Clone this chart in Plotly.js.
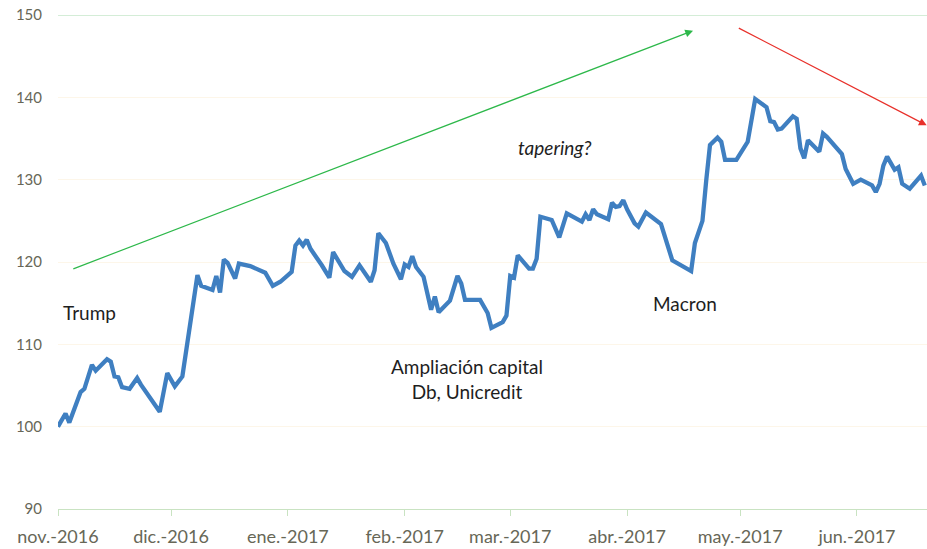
<!DOCTYPE html>
<html>
<head>
<meta charset="utf-8">
<script src="https://cdn.plot.ly/plotly-3.0.1.min.js"></script>
<style>
  body { margin: 0; background: #fff; }
  #chart { width: 927px; height: 549px; }
</style>
</head>
<body>
<div id="chart"></div>
<script>
var fechas = [
    '2016-11-01', '2016-11-03', '2016-11-04', '2016-11-06', '2016-11-07', '2016-11-08',
    '2016-11-10', '2016-11-11', '2016-11-14', '2016-11-15', '2016-11-16', '2016-11-17',
    '2016-11-18', '2016-11-20', '2016-11-22', '2016-11-23', '2016-11-28', '2016-11-30',
    '2016-12-02', '2016-12-04', '2016-12-06', '2016-12-08', '2016-12-09', '2016-12-12',
    '2016-12-13', '2016-12-14', '2016-12-15', '2016-12-16', '2016-12-18', '2016-12-19',
    '2016-12-22', '2016-12-26', '2016-12-28', '2016-12-30', '2017-01-02', '2017-01-03',
    '2017-01-04', '2017-01-05', '2017-01-06', '2017-01-07', '2017-01-10', '2017-01-12',
    '2017-01-13', '2017-01-14', '2017-01-16', '2017-01-18', '2017-01-20', '2017-01-23',
    '2017-01-24', '2017-01-25', '2017-01-27', '2017-01-29', '2017-01-31', '2017-02-01',
    '2017-02-02', '2017-02-03', '2017-02-04', '2017-02-06', '2017-02-08', '2017-02-09',
    '2017-02-10', '2017-02-13', '2017-02-15', '2017-02-16', '2017-02-17', '2017-02-21',
    '2017-02-23', '2017-02-24', '2017-02-27', '2017-02-28', '2017-03-01', '2017-03-02',
    '2017-03-03', '2017-03-06', '2017-03-07', '2017-03-08', '2017-03-09', '2017-03-12',
    '2017-03-14', '2017-03-16', '2017-03-20', '2017-03-21', '2017-03-22', '2017-03-23',
    '2017-03-24', '2017-03-27', '2017-03-28', '2017-03-29', '2017-03-30', '2017-03-31',
    '2017-04-01', '2017-04-03', '2017-04-04', '2017-04-06', '2017-04-10', '2017-04-13',
    '2017-04-18', '2017-04-19', '2017-04-21', '2017-04-22', '2017-04-23', '2017-04-25',
    '2017-04-26', '2017-04-27', '2017-04-30', '2017-05-03', '2017-05-05', '2017-05-08',
    '2017-05-09', '2017-05-10', '2017-05-11', '2017-05-12', '2017-05-15', '2017-05-16',
    '2017-05-17', '2017-05-18', '2017-05-19', '2017-05-22', '2017-05-23', '2017-05-24',
    '2017-05-26', '2017-05-28', '2017-05-29', '2017-05-31', '2017-06-02', '2017-06-05',
    '2017-06-06', '2017-06-07', '2017-06-08', '2017-06-09', '2017-06-11', '2017-06-12',
    '2017-06-13', '2017-06-15', '2017-06-18', '2017-06-19'
];

var indice = [
    100.0, 101.6, 100.5, 102.8, 104.2, 104.6,
    107.5, 106.8, 108.2, 107.9, 106.1, 106.0,
    104.8, 104.6, 105.9, 105.1, 101.8, 106.5,
    104.9, 106.1, 112.3, 118.4, 117.1, 116.6,
    118.3, 116.3, 120.3, 119.9, 118.0, 119.8,
    119.5, 118.7, 117.1, 117.6, 118.8, 122.0,
    122.6, 122.0, 122.7, 121.6, 119.6, 118.1,
    121.2, 120.4, 118.9, 118.2, 119.6, 117.6,
    119.0, 123.5, 122.3, 119.8, 117.9, 119.7,
    119.4, 120.7, 119.4, 118.2, 114.2, 115.8,
    113.9, 115.3, 118.3, 117.4, 115.4, 115.4,
    113.8, 112.0, 112.7, 113.5, 118.3, 118.1,
    120.8, 119.2, 119.2, 120.4, 125.5, 125.1,
    123.0, 125.9, 124.9, 125.8, 125.1, 126.4,
    125.8, 125.2, 127.2, 126.7, 126.8, 127.5,
    126.4, 124.7, 124.3, 126.0, 124.6, 120.2,
    118.9, 122.3, 125.0, 129.9, 134.2, 135.1,
    134.6, 132.4, 132.4, 134.6, 139.8, 138.8,
    137.1, 137.0, 136.1, 136.2, 137.7, 137.4,
    133.8, 132.6, 134.8, 133.4, 135.6, 135.2,
    134.1, 133.1, 131.3, 129.5, 130.0, 129.3,
    128.5, 129.5, 131.7, 132.8, 131.2, 131.5,
    129.5, 128.9, 130.5, 129.3
];

var mesesTicks = ['2016-11-01', '2016-12-01', '2017-01-01', '2017-02-01',
                  '2017-03-01', '2017-04-01', '2017-05-01', '2017-06-01'];
var mesesTexto = ['nov.-2016', 'dic.-2016', 'ene.-2017', 'feb.-2017',
                  'mar.-2017', 'abr.-2017', 'may.-2017', 'jun.-2017'];
var valoresY = [90, 100, 110, 120, 130, 140, 150];

var fuente = 'Lato, "Open Sans", sans-serif';
var colorTicks = '#676757';

var traza = {
    x: fechas,
    y: indice,
    type: 'scatter',
    mode: 'lines',
    line: { color: '#3f7fc1', width: 4.3 },
    hoverinfo: 'x+y'
};

var layout = {
    width: 927,
    height: 549,
    margin: { l: 58, r: 0, t: 15, b: 40 },
    paper_bgcolor: '#ffffff',
    plot_bgcolor: '#ffffff',
    showlegend: false,
    font: { family: fuente, size: 19, color: '#1e1e1e' },
    xaxis: {
        type: 'date',
        range: ['2016-11-01', '2017-06-19 14:00'],
        tickmode: 'array',
        tickvals: mesesTicks,
        ticktext: mesesTexto,
        ticks: 'outside',
        ticklen: 6,
        tickcolor: '#c9e3c2',
        ticklabelstandoff: 5,
        showline: true,
        linecolor: '#c9e3c2',
        linewidth: 1,
        showgrid: false,
        zeroline: false,
        tickfont: { family: fuente, size: 18, color: colorTicks }
    },
    yaxis: {
        range: [90, 150],
        tickmode: 'array',
        tickvals: valoresY,
        ticks: 'outside',
        ticklen: 12,
        tickcolor: 'rgba(0,0,0,0)',
        showgrid: true,
        gridcolor: '#fdf6e9',
        gridwidth: 1,
        zeroline: false,
        showline: false,
        tickfont: { family: fuente, size: 15, color: colorTicks }
    },
    shapes: [
        {
            type: 'line', xref: 'paper', yref: 'y',
            x0: 0, x1: 1, y0: 150, y1: 150,
            line: { color: '#a9dcb0', width: 1 }
        }
    ],
    annotations: [
        {
            xref: 'x', yref: 'y', axref: 'x', ayref: 'y',
            x: '2017-04-18 12:00', y: 148.1,
            ax: '2016-11-04 16:00', ay: 119.1,
            showarrow: true, arrowhead: 2, arrowsize: 1.3, arrowwidth: 1.2,
            arrowcolor: '#2db84a', text: ''
        },
        {
            xref: 'x', yref: 'y', axref: 'x', ayref: 'y',
            x: '2017-06-19 12:00', y: 136.6,
            ax: '2017-04-30 06:00', ay: 148.5,
            showarrow: true, arrowhead: 2, arrowsize: 1.3, arrowwidth: 1.2,
            arrowcolor: '#e8302a', text: ''
        },
        {
            xref: 'x', yref: 'y', x: '2016-11-09 06:00', y: 113.9,
            text: 'Trump', showarrow: false
        },
        {
            xref: 'x', yref: 'y', x: '2017-02-17 12:00', y: 105.8,
            text: 'Ampliación capital<br>Db, Unicredit', showarrow: false
        },
        {
            xref: 'x', yref: 'y', x: '2017-04-16 10:00', y: 115.0,
            text: 'Macron', showarrow: false
        },
        {
            xref: 'x', yref: 'y', x: '2017-03-13', y: 133.9,
            text: '<i>tapering?</i>', showarrow: false
        }
    ]
};

Plotly.newPlot('chart', [traza], layout, { displayModeBar: false, staticPlot: true });
</script>
</body>
</html>
